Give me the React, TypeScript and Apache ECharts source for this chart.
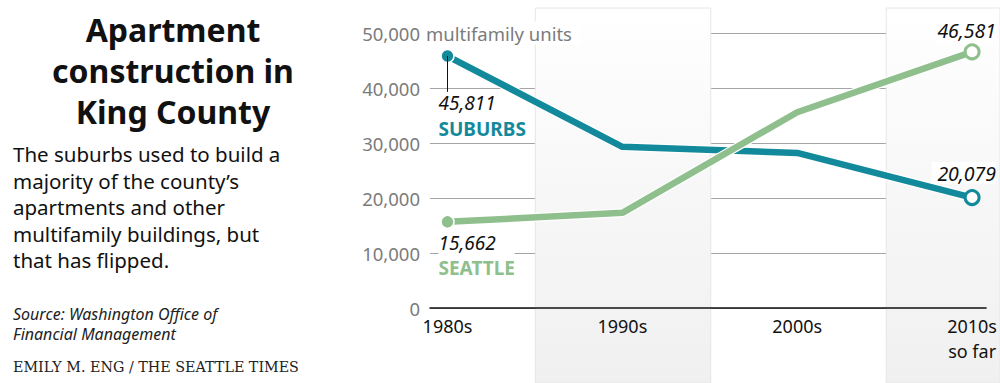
import React, { useEffect, useRef } from "react";
import * as echarts from "echarts";

const categories = ["1980s", "1990s", "2000s", "2010s\nso far"];
const suburbs = [45811, 29300, 28200, 20079];
const seattle = [15662, 17300, 35600, 46581];
const seriesNames = ["SUBURBS", "SEATTLE"];
const yTicks = [0, 10000, 20000, 30000, 40000, 50000];
const yUnit = "multifamily units";
const titleLines = ["Apartment", "construction in", "King County"];
const bodyLines = [
  "The suburbs used to build a",
  "majority of the county\u2019s",
  "apartments and other",
  "multifamily buildings, but",
  "that has flipped.",
];
const sourceLines = ["Source: Washington Office of", "Financial Management"];
const credit = "EMILY M. ENG / THE SEATTLE TIMES";

const TEAL = "#128a9b";
const GREEN = "#8fbf8d";
const FONT = '"Noto Sans", sans-serif';

const fmt = (v: number) => v.toLocaleString("en-US");
const catLines = categories.map((c) => c.split("\n"));

function makeData(vals: number[], color: string, isSeattle: boolean) {
  const last = vals.length - 1;
  return vals.map((v, i) => {
    if (i === 0) {
      return {
        value: [i, v],
        symbol: "circle",
        symbolSize: 13,
        itemStyle: { color, borderColor: "#fff", borderWidth: 1.5 },
        label: {
          show: true,
          position: "bottom",
          align: "left",
          verticalAlign: "top",
          distance: 5,
          offset: isSeattle ? [-9, -3] : [-9, 23],
          formatter: fmt(v),
          fontFamily: FONT,
          fontStyle: "italic",
          fontSize: 19,
          lineHeight: 24,
          color: "#111",
          backgroundColor: isSeattle ? "#fff" : "transparent",
          width: isSeattle ? 76 : undefined,
        },
      };
    }
    if (i === last) {
      return {
        value: [i, v],
        symbol: "circle",
        symbolSize: 14,
        itemStyle: { color: "#fff", borderColor: color, borderWidth: 3 },
        label: {
          show: true,
          position: "top",
          align: "right",
          verticalAlign: "bottom",
          distance: 5,
          offset: isSeattle ? [24, 3] : [24, 0],
          formatter: fmt(v),
          fontFamily: FONT,
          fontStyle: "italic",
          fontSize: 19.5,
          lineHeight: 22,
          color: "#111",
          backgroundColor: "#fff",
          padding: [0, 0, 0, 6],
        },
      };
    }
    return { value: [i, v], symbol: "none" };
  });
}

function nameMark(vals: number[], color: string, name: string, isSeattle: boolean) {
  return {
    silent: true,
    symbol: "circle",
    symbolSize: 0,
    itemStyle: { color: "rgba(0,0,0,0)" },
    data: [
      {
        coord: [0, vals[0]],
        label: {
          show: true,
          position: "bottom",
          align: "left",
          verticalAlign: "top",
          distance: 0,
          offset: isSeattle ? [-9, 34.5] : [-9, 60.5],
          formatter: name,
          fontFamily: FONT,
          fontWeight: "bold",
          fontSize: 19,
          lineHeight: 24,
          color,
          backgroundColor: isSeattle ? "#fff" : "transparent",
          width: isSeattle ? 76 : undefined,
        },
      },
    ],
  };
}

export default function App() {
  const ref = useRef<HTMLDivElement>(null);
  useEffect(() => {
    document.body.style.margin = "0";
    if (!ref.current) return;
    const chart = echarts.init(ref.current, undefined, { renderer: "svg" });
    const xMin = -0.1;
    const xMax = 3.08;
    const gridLeft = 430;
    const gridRight = 12;
    const pxPerUnit = (1000 - gridLeft - gridRight) / (xMax - xMin);
    const bgMax = xMin + (1000 - gridLeft) / pxPerUnit;
    const halo = (vals: number[]) => ({
      type: "line",
      xAxisIndex: 0,
      yAxisIndex: 0,
      data: vals.map((v, i) => [i, v]),
      symbol: "none",
      silent: true,
      lineStyle: { color: "#fff", width: 9 },
      z: 2,
    });
    const mids = categories.slice(1).map((_, i) => i + 0.5);
    const xLabelBase = {
      color: "#111",
      fontFamily: FONT,
      fontSize: 18,
      lineHeight: 22,
    };
    chart.setOption({
      animation: false,
      grid: [
        { left: gridLeft, right: gridRight, top: 33, bottom: 75 },
        { left: gridLeft, right: 0, top: 8, bottom: 0 },
      ],
      xAxis: [
        {
          type: "value",
          gridIndex: 0,
          min: xMin,
          max: xMax,
          axisLine: { show: true, onZero: true, lineStyle: { color: "#111", width: 1.5 } },
          axisTick: { show: false },
          splitLine: { show: false },
          axisLabel: {
            ...xLabelBase,
            customValues: categories.map((_, i) => i),
            formatter: (v: number) => catLines[Math.round(v)]?.[0] ?? "",
            margin: 7,
          },
          z: 3,
        },
        { type: "value", gridIndex: 1, min: xMin, max: bgMax, show: false },
        {
          type: "value",
          gridIndex: 0,
          position: "bottom",
          offset: 24.5,
          min: xMin,
          max: xMax,
          axisLine: { show: false },
          axisTick: { show: false },
          splitLine: { show: false },
          axisLabel: {
            ...xLabelBase,
            customValues: catLines.map((l, i) => (l.length > 1 ? i : -1)).filter((i) => i >= 0),
            formatter: (v: number) => catLines[Math.round(v)]?.[1] ?? "",
            margin: 7,
          },
          z: 3,
        },
      ],
      yAxis: [
        {
          type: "value",
          gridIndex: 0,
          min: yTicks[0],
          max: yTicks[yTicks.length - 1],
          interval: yTicks[1] - yTicks[0],
          axisLine: { show: false },
          axisTick: { show: false },
          splitLine: { lineStyle: { color: "#a5a5a5", width: 1 } },
          axisLabel: {
            formatter: (v: number) => fmt(v),
            color: "#7b7b7b",
            fontFamily: FONT,
            fontSize: 18.5,
            margin: 10,
          },
          z: 1,
        },
        { type: "value", gridIndex: 1, min: 0, max: 1, show: false },
      ],
      series: [
        {
          type: "line",
          xAxisIndex: 1,
          yAxisIndex: 1,
          data: [[xMin, 0]],
          symbol: "none",
          silent: true,
          lineStyle: { width: 0 },
          z: 0,
          markArea: {
            silent: true,
            itemStyle: {
              color: new echarts.graphic.LinearGradient(0, 0, 0, 1, [
                { offset: 0, color: "#ffffff" },
                { offset: 0.5, color: "#f7f7f7" },
                { offset: 1, color: "#f0f0f0" },
              ]),
              borderColor: "#e6e6e6",
              borderWidth: 1,
            },
            data: [
              [{ xAxis: mids[0] }, { xAxis: mids[1] }],
              [{ xAxis: mids[2] }, { xAxis: bgMax }],
            ],
          },
        },
        halo(suburbs),
        {
          type: "line",
          name: seriesNames[0],
          xAxisIndex: 0,
          yAxisIndex: 0,
          data: makeData(suburbs, TEAL, false),
          showAllSymbol: true,
          lineStyle: { color: TEAL, width: 6.5 },
          itemStyle: { color: TEAL },
          z: 3,
          markLine: {
            silent: true,
            symbol: "none",
            label: { show: false },
            lineStyle: { color: "#111", width: 1, type: "solid" },
            data: [[{ coord: [0, suburbs[0]] }, { coord: [0, 39300] }]],
          },
          markPoint: nameMark(suburbs, TEAL, seriesNames[0], false),
        },
        { ...halo(seattle), z: 4 },
        {
          type: "line",
          name: seriesNames[1],
          xAxisIndex: 0,
          yAxisIndex: 0,
          data: makeData(seattle, GREEN, true),
          showAllSymbol: true,
          lineStyle: { color: GREEN, width: 6.5 },
          itemStyle: { color: GREEN },
          z: 5,
          markPoint: nameMark(seattle, GREEN, seriesNames[1], true),
        },
      ],
    });

    const top = chart.convertToPixel({ gridIndex: 0 }, [xMin, yTicks[yTicks.length - 1]]) as number[];
    chart.setOption({
      graphic: [
        {
          type: "text",
          x: gridLeft - 4,
          y: top[1],
          z: 10,
          style: {
            text: yUnit,
            fontFamily: FONT,
            fontSize: 18.5,
            fill: "#7b7b7b",
            verticalAlign: "middle",
            backgroundColor: "#fff",
            padding: [2, 8, 2, 0],
          },
        },
        {
          type: "text",
          x: 173,
          y: 9,
          style: {
            text: titleLines.join("\n"),
            fontFamily: FONT,
            fontWeight: "bold",
            fontSize: 32,
            lineHeight: 41,
            fill: "#111",
            align: "center",
            verticalAlign: "top",
          },
        },
        {
          type: "text",
          x: 13,
          y: 141,
          style: {
            text: bodyLines.join("\n"),
            fontFamily: FONT,
            fontSize: 20.5,
            lineHeight: 26.5,
            fill: "#111",
            align: "left",
            verticalAlign: "top",
          },
        },
        {
          type: "text",
          x: 13,
          y: 304,
          style: {
            text: sourceLines.join("\n"),
            fontFamily: FONT,
            fontStyle: "italic",
            fontSize: 16,
            lineHeight: 20,
            fill: "#222",
            align: "left",
            verticalAlign: "top",
          },
        },
        {
          type: "text",
          x: 13,
          y: 359,
          style: {
            text: credit,
            fontFamily: '"DejaVu Serif", serif',
            fontSize: 14.3,
            lineHeight: 16,
            fill: "#222",
            align: "left",
            verticalAlign: "top",
          },
        },
      ],
    });
    return () => chart.dispose();
  }, []);
  return <div ref={ref} style={{ width: 1000, height: 383 }} />;
}
